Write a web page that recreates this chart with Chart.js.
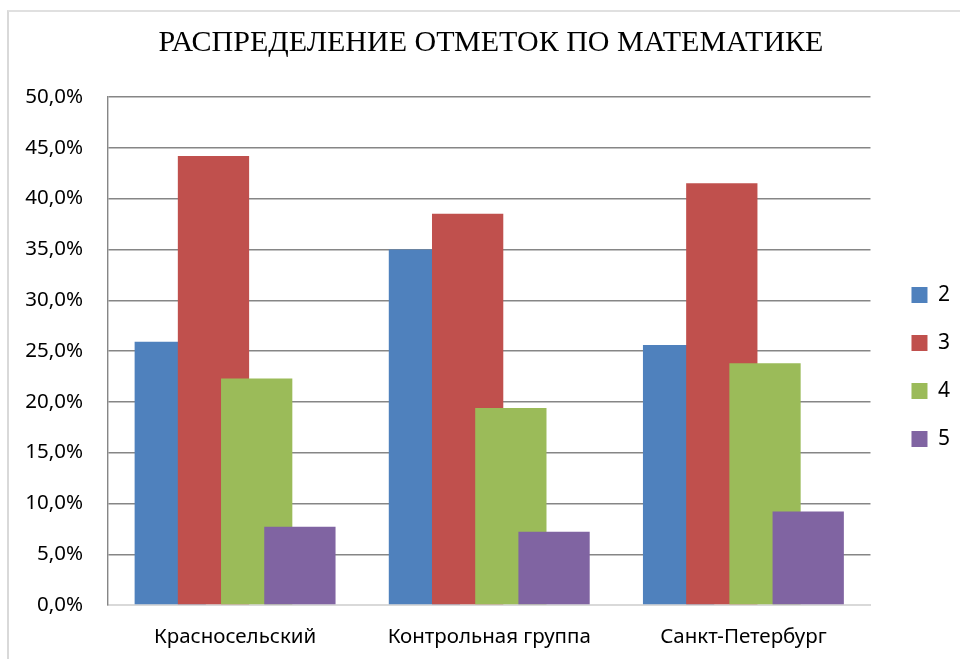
<!DOCTYPE html>
<html lang="ru">
<head>
<meta charset="utf-8">
<title>Распределение отметок по математике</title>
<script src="https://cdn.jsdelivr.net/npm/chart.js@4.4.1/dist/chart.umd.min.js"></script>
<style>
  html, body { margin: 0; padding: 0; background: #fff; }
  #wrap { position: relative; width: 960px; height: 659px; overflow: hidden; }
  #frame {
    position: absolute; left: 7px; top: 10px; width: 1000px; height: 700px;
    border-left: 2px solid #d9d9d9; border-top: 2px solid #e0e0e0;
    pointer-events: none;
  }
</style>
</head>
<body>
<div id="wrap">
  <canvas id="chart" width="960" height="659"></canvas>
  <div id="frame"></div>
</div>
<script>
/* Распределение отметок по математике */

const categories = ['Красносельский', 'Контрольная группа', 'Санкт-Петербург'];
const grades = ['2', '3', '4', '5'];
const grade2 = [25.9, 35.0, 25.6];
const grade3 = [44.2, 38.5, 41.5];
const grade4 = [22.3, 19.4, 23.8];
const grade5 = [7.7, 7.2, 9.2];
const colors = ['#4F81BD', '#C0504D', '#9BBB59', '#8064A2'];

const FONT = '"Noto Sans", "Open Sans", sans-serif';

// excel draws later series over earlier ones
const drawOrder = {
  id: 'drawOrder',
  beforeDatasetsDraw(chart) {
    chart.getSortedVisibleDatasetMetas().forEach(m => m.controller.draw());
    return false;
  }
};

function pct(v) {
  return v.toFixed(1).replace('.', ',') + '%';
}

const series = [grade2, grade3, grade4, grade5];

new Chart(document.getElementById('chart'), {
  type: 'bar',
  data: {
    labels: categories,
    datasets: series.map((vals, i) => ({
      label: grades[i],
      data: vals,
      backgroundColor: colors[i],
      borderWidth: 0,
      categoryPercentage: 0.68,
      barPercentage: 1.65,
    }))
  },
  plugins: [drawOrder],
  options: {
    responsive: false,
    animation: false,
    layout: { padding: { left: 22, right: 0, top: 10, bottom: 0 } },
    plugins: {
      tooltip: { enabled: false },
      title: {
        display: true,
        text: 'РАСПРЕДЕЛЕНИЕ ОТМЕТОК ПО МАТЕМАТИКЕ',
        color: '#000',
        font: { family: '"Liberation Serif", "Times New Roman", serif', size: 30, weight: 'normal', lineHeight: 1.2 },
        padding: { top: 15.6, bottom: 35.4 }
      },
      legend: {
        position: 'right',
        fullSize: false,
        title: { display: true, text: '', font: { size: 12, lineHeight: 1.2 }, padding: 8.8 },
        labels: {
          boxWidth: 16,
          boxHeight: 16,
          padding: 27,
          color: '#000',
          font: { family: FONT, size: 21 }
        }
      }
    },
    scales: {
      x: {
        grid: { display: false, drawTicks: false },
        border: { display: true, color: '#d9d9d9', width: 2 },
        ticks: { color: '#000', padding: 20, font: { family: FONT, size: 20.5 } },
        afterFit: s => { s.height = 54; }
      },
      y: {
        min: 0,
        max: 50,
        grid: {
          drawTicks: false,
          color: ctx => (ctx.tick && ctx.tick.value === 0 ? 'rgba(0,0,0,0)' : '#868686'),
          lineWidth: 1.4
        },
        border: { display: true, color: '#868686', width: 1.4 },
        ticks: {
          stepSize: 5,
          padding: 25,
          color: '#000',
          font: { family: FONT, size: 20.5 },
          callback: v => pct(v)
        },
        afterFit: s => { s.width = 86; }
      },
      gap: {
        position: 'right',
        display: true,
        grid: { display: false, drawOnChartArea: false, drawTicks: false },
        border: { display: false },
        ticks: { display: false },
        afterFit: s => { s.width = 14; }
      }
    }
  }
});
</script>
</body>
</html>
